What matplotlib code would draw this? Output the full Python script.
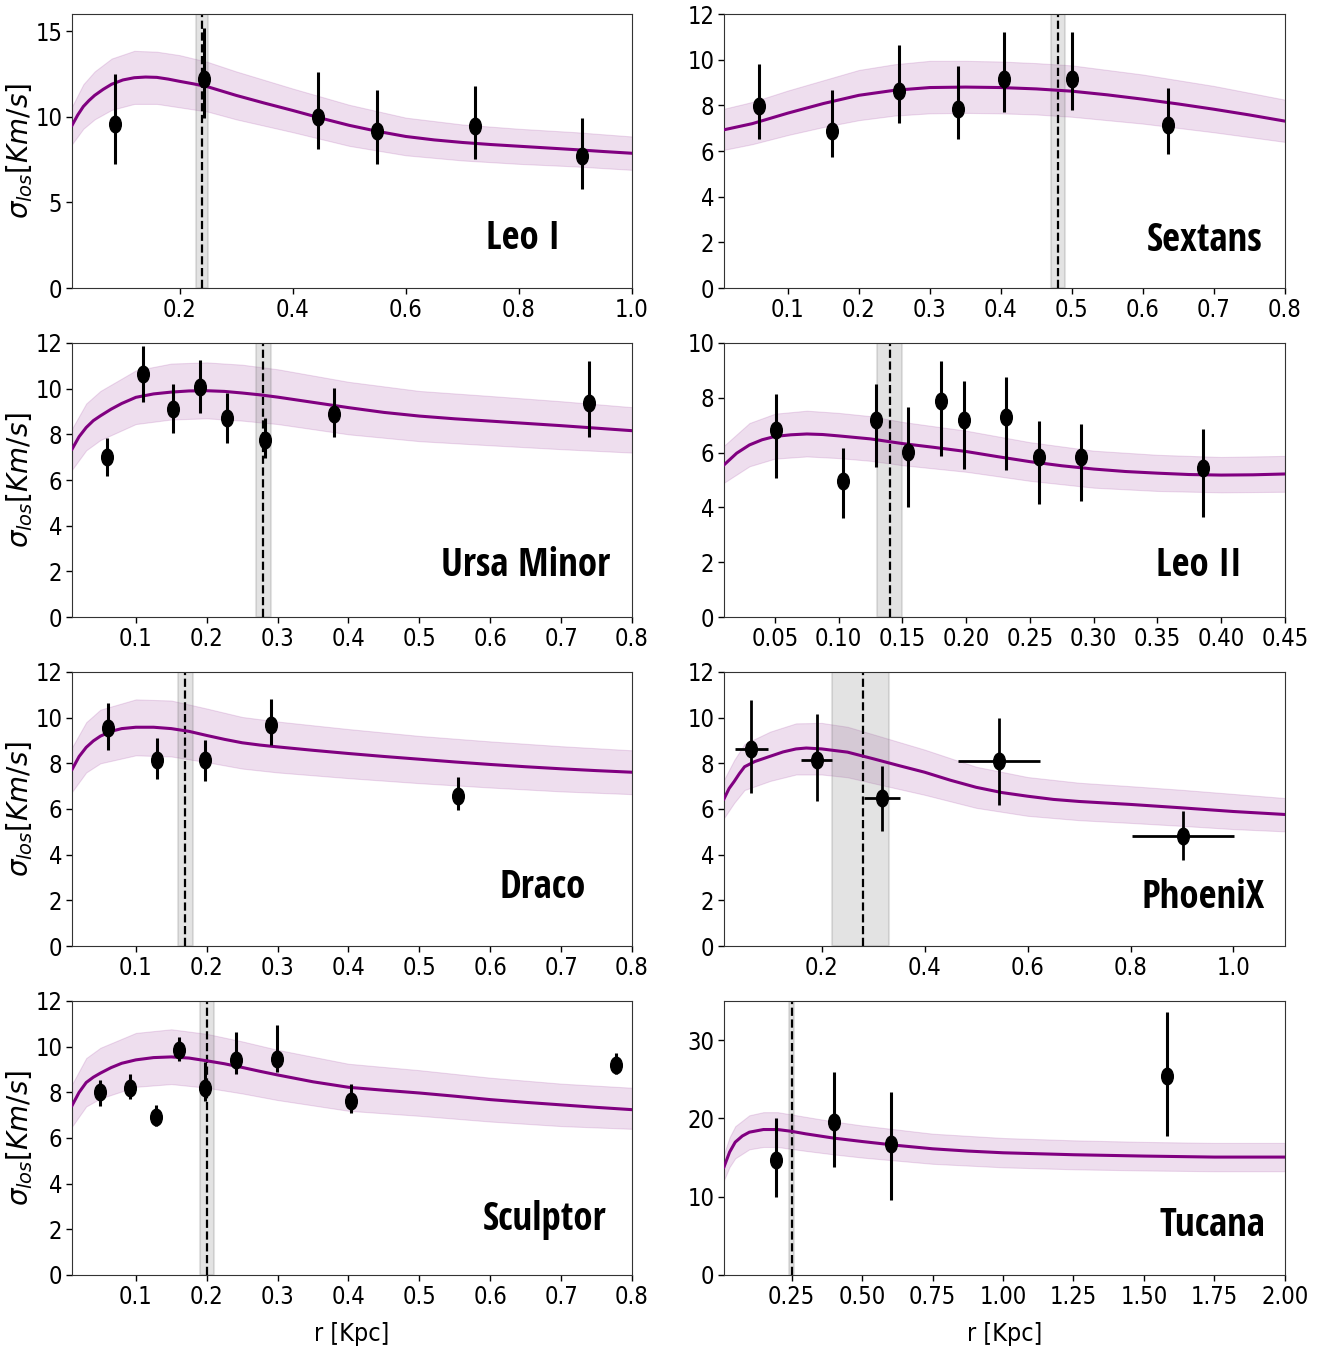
import numpy as np
import matplotlib
matplotlib.use("Agg")
import matplotlib.pyplot as plt
from matplotlib import font_manager
from matplotlib.font_manager import FontProperties
from matplotlib.path import Path
from matplotlib.transforms import Affine2D

# ---------------- data ----------------
names = ["Leo I", "Sextans", "Ursa Minor", "Leo II", "Draco", "PhoeniX", "Sculptor", "Tucana"]

# Leo I
leo1_r = [0.086, 0.243, 0.445, 0.550, 0.723, 0.911]
leo1_s = [9.6, 12.2, 10.0, 9.15, 9.45, 7.7]
leo1_lo = [7.25, 9.9, 8.1, 7.25, 7.55, 5.8]
leo1_hi = [12.5, 15.2, 12.6, 11.55, 11.8, 9.9]
leo1_mr = [0.01, 0.02, 0.03, 0.04, 0.05, 0.065, 0.08, 0.1, 0.12, 0.14, 0.16, 0.18, 0.2, 0.225, 0.25,
           0.275, 0.3, 0.35, 0.4, 0.45, 0.5, 0.55, 0.6, 0.65, 0.7, 0.75, 0.8, 0.85, 0.9, 0.95, 1.0]
leo1_m = [9.5, 10.1, 10.6, 10.95, 11.25, 11.6, 11.9, 12.15, 12.28, 12.32, 12.3, 12.2, 12.07, 11.92, 11.75,
          11.5, 11.25, 10.8, 10.37, 9.92, 9.5, 9.15, 8.85, 8.65, 8.5, 8.38, 8.28, 8.18, 8.08, 7.97, 7.87]
leo1_br = [0.01, 0.03, 0.05, 0.08, 0.12, 0.16, 0.2, 0.25, 0.3, 0.4, 0.5, 0.6, 0.7, 0.8, 0.9, 1.0]
leo1_blo = [8.4, 9.3, 9.85, 10.4, 10.75, 10.75, 10.55, 10.3, 9.85, 9.1, 8.3, 7.75, 7.45, 7.25, 7.1, 6.9]
leo1_bhi = [10.6, 11.9, 12.65, 13.4, 13.85, 13.8, 13.6, 13.2, 12.65, 11.65, 10.7, 9.95, 9.55, 9.3, 9.1, 8.85]

# Sextans
sext_r = [0.059, 0.162, 0.257, 0.340, 0.405, 0.500, 0.635]
sext_s = [7.96, 6.88, 8.63, 7.86, 9.17, 9.17, 7.12]
sext_lo = [6.54, 5.73, 7.23, 6.54, 7.72, 7.78, 5.85]
sext_hi = [9.83, 8.66, 10.65, 9.72, 11.2, 11.2, 8.78]
sext_mr = [0.01, 0.05, 0.1, 0.15, 0.2, 0.25, 0.3, 0.35, 0.4, 0.45, 0.5, 0.55, 0.6, 0.65, 0.7, 0.75, 0.8]
sext_m = [6.93, 7.2, 7.66, 8.08, 8.44, 8.66, 8.78, 8.8, 8.78, 8.72, 8.62, 8.46, 8.27, 8.06, 7.83, 7.58, 7.31]
sext_br = [0.01, 0.05, 0.1, 0.15, 0.2, 0.25, 0.3, 0.35, 0.4, 0.45, 0.5, 0.6, 0.7, 0.8]
sext_blo = [6.05, 6.3, 6.7, 7.05, 7.35, 7.55, 7.65, 7.67, 7.65, 7.6, 7.5, 7.2, 6.82, 6.4]
sext_bhi = [7.85, 8.15, 8.65, 9.1, 9.55, 9.8, 9.95, 9.95, 9.92, 9.85, 9.75, 9.35, 8.85, 8.25]

# Ursa Minor
umi_r = [0.060, 0.110, 0.153, 0.190, 0.229, 0.282, 0.380, 0.739]
umi_s = [7.02, 10.65, 9.12, 10.07, 8.71, 7.76, 8.88, 9.39]
umi_lo = [6.19, 9.42, 8.05, 8.93, 7.61, 6.95, 7.87, 7.87]
umi_hi = [7.83, 11.85, 10.21, 11.27, 9.81, 8.71, 10.02, 11.19]
umi_mr = [0.01, 0.02, 0.03, 0.04, 0.05, 0.065, 0.08, 0.1, 0.125, 0.15, 0.175, 0.2, 0.225, 0.25, 0.275,
          0.3, 0.35, 0.4, 0.45, 0.5, 0.55, 0.6, 0.65, 0.7, 0.75, 0.8]
umi_m = [7.35, 7.9, 8.3, 8.6, 8.81, 9.1, 9.35, 9.62, 9.77, 9.85, 9.9, 9.91, 9.88, 9.81, 9.73,
         9.63, 9.4, 9.17, 8.96, 8.8, 8.68, 8.58, 8.48, 8.38, 8.27, 8.16]
umi_br = [0.01, 0.03, 0.05, 0.1, 0.15, 0.2, 0.25, 0.3, 0.4, 0.5, 0.6, 0.7, 0.8]
umi_blo = [6.45, 7.3, 7.75, 8.45, 8.65, 8.7, 8.6, 8.45, 8.0, 7.7, 7.52, 7.35, 7.2]
umi_bhi = [8.25, 9.35, 9.9, 10.8, 11.1, 11.15, 11.05, 10.85, 10.3, 9.9, 9.68, 9.45, 9.19]

# Leo II
leo2_r = [0.051, 0.103, 0.129, 0.154, 0.180, 0.198, 0.231, 0.257, 0.290, 0.386]
leo2_s = [6.83, 4.97, 7.2, 6.04, 7.87, 7.2, 7.3, 5.83, 5.83, 5.43]
leo2_lo = [5.06, 3.6, 5.47, 4.0, 5.88, 5.42, 5.37, 4.12, 4.23, 3.64]
leo2_hi = [8.15, 6.18, 8.51, 7.68, 9.33, 8.6, 8.76, 7.17, 7.05, 6.86]
leo2_mr = [0.01, 0.02, 0.03, 0.04, 0.05, 0.0625, 0.075, 0.0875, 0.1, 0.125, 0.15, 0.175, 0.2, 0.225,
           0.25, 0.275, 0.3, 0.325, 0.35, 0.375, 0.4, 0.425, 0.45]
leo2_m = [5.55, 5.98, 6.28, 6.47, 6.59, 6.65, 6.68, 6.66, 6.61, 6.5, 6.33, 6.19, 6.04, 5.85,
          5.67, 5.52, 5.4, 5.31, 5.25, 5.2, 5.18, 5.19, 5.22]
leo2_br = [0.01, 0.03, 0.05, 0.075, 0.1, 0.125, 0.15, 0.2, 0.25, 0.3, 0.35, 0.4, 0.45]
leo2_blo = [4.9, 5.5, 5.78, 5.86, 5.8, 5.7, 5.54, 5.3, 4.97, 4.72, 4.6, 4.55, 4.57]
leo2_bhi = [6.25, 7.08, 7.42, 7.53, 7.45, 7.33, 7.12, 6.8, 6.38, 6.07, 5.92, 5.84, 5.88]

# Draco
dra_r = [0.061, 0.130, 0.198, 0.290, 0.554]
dra_s = [9.53, 8.13, 8.13, 9.69, 6.58]
dra_lo = [8.57, 7.33, 7.24, 8.82, 5.94]
dra_hi = [10.65, 9.09, 9.01, 10.83, 7.4]
dra_mr = [0.01, 0.02, 0.03, 0.04, 0.05, 0.065, 0.08, 0.1, 0.125, 0.15, 0.175, 0.2, 0.225, 0.25, 0.275,
          0.3, 0.35, 0.4, 0.45, 0.5, 0.55, 0.6, 0.65, 0.7, 0.75, 0.8]
dra_m = [7.73, 8.3, 8.7, 8.98, 9.19, 9.4, 9.52, 9.58, 9.58, 9.52, 9.4, 9.22, 9.05, 8.9, 8.8,
         8.72, 8.57, 8.43, 8.3, 8.18, 8.06, 7.95, 7.85, 7.76, 7.68, 7.61]
dra_br = [0.01, 0.03, 0.05, 0.1, 0.15, 0.2, 0.25, 0.3, 0.4, 0.5, 0.6, 0.7, 0.8]
dra_blo = [6.75, 7.6, 8.0, 8.35, 8.3, 8.05, 7.77, 7.6, 7.35, 7.13, 6.94, 6.77, 6.65]
dra_bhi = [8.7, 9.8, 10.35, 10.8, 10.75, 10.4, 10.03, 9.83, 9.5, 9.2, 8.96, 8.75, 8.57]

# PhoeniX (with radial bin widths)
phx_r = [0.063, 0.190, 0.318, 0.544, 0.902]
phx_s = [8.63, 8.13, 6.48, 8.09, 4.8]
phx_lo = [6.7, 6.33, 5.02, 6.19, 3.78]
phx_hi = [10.77, 10.14, 7.9, 10.0, 5.9]
phx_rerr = [0.032, 0.030, 0.035, 0.080, 0.100]
phx_mr = [0.01, 0.02, 0.03, 0.04, 0.05, 0.07, 0.1, 0.125, 0.15, 0.17, 0.2, 0.25, 0.3, 0.35, 0.4,
          0.45, 0.5, 0.55, 0.6, 0.65, 0.7, 0.8, 0.9, 1.0, 1.1]
phx_m = [6.44, 6.9, 7.21, 7.55, 7.85, 8.08, 8.31, 8.5, 8.63, 8.67, 8.63, 8.49, 8.2, 7.9, 7.61,
         7.26, 6.95, 6.72, 6.56, 6.42, 6.33, 6.2, 6.05, 5.89, 5.76]
phx_br = [0.01, 0.03, 0.05, 0.1, 0.15, 0.2, 0.25, 0.3, 0.4, 0.5, 0.6, 0.7, 0.8, 0.9, 1.0, 1.1]
phx_blo = [5.6, 6.27, 6.83, 7.23, 7.51, 7.51, 7.39, 7.13, 6.62, 6.05, 5.7, 5.51, 5.39, 5.26, 5.12, 5.02]
phx_bhi = [7.28, 8.15, 8.85, 9.39, 9.75, 9.77, 9.6, 9.27, 8.6, 7.85, 7.4, 7.15, 7.0, 6.84, 6.66, 6.48]

# Sculptor
scl_r = [0.049, 0.092, 0.128, 0.161, 0.198, 0.241, 0.299, 0.404, 0.778]
scl_s = [8.0, 8.17, 6.91, 9.85, 8.17, 9.41, 9.45, 7.6, 9.2]
scl_lo = [7.39, 7.71, 6.51, 9.35, 7.64, 8.8, 8.91, 7.1, 8.8]
scl_hi = [8.54, 8.8, 7.45, 10.4, 9.34, 10.65, 10.95, 8.36, 9.72]
scl_mr = [0.01, 0.02, 0.03, 0.04, 0.05, 0.065, 0.08, 0.1, 0.125, 0.15, 0.175, 0.2, 0.225, 0.25, 0.275,
          0.3, 0.35, 0.4, 0.45, 0.5, 0.55, 0.6, 0.65, 0.7, 0.75, 0.8]
scl_m = [7.42, 8.0, 8.43, 8.66, 8.84, 9.08, 9.27, 9.42, 9.52, 9.55, 9.5, 9.38, 9.25, 9.09, 8.92,
         8.76, 8.46, 8.22, 8.09, 7.97, 7.83, 7.68, 7.56, 7.45, 7.34, 7.24]
scl_br = [0.01, 0.03, 0.05, 0.1, 0.15, 0.2, 0.25, 0.3, 0.4, 0.5, 0.6, 0.7, 0.8]
scl_blo = [6.5, 7.38, 7.73, 8.24, 8.36, 8.2, 7.95, 7.66, 7.19, 6.97, 6.72, 6.52, 6.4]
scl_bhi = [8.35, 9.5, 9.95, 10.6, 10.76, 10.56, 10.23, 9.86, 9.25, 8.97, 8.64, 8.38, 8.2]

# Tucana
tuc_r = [0.193, 0.402, 0.602, 1.581]
tuc_s = [14.72, 19.6, 16.67, 25.37]
tuc_lo = [9.97, 13.79, 9.63, 17.73]
tuc_hi = [20.0, 25.96, 23.4, 33.6]
tuc_mr = [0.01, 0.03, 0.05, 0.075, 0.1, 0.15, 0.2, 0.25, 0.3, 0.4, 0.5, 0.625, 0.75, 0.875, 1.0,
          1.25, 1.5, 1.75, 2.0]
tuc_m = [13.79, 15.7, 16.97, 17.75, 18.24, 18.58, 18.58, 18.35, 18.03, 17.48, 17.05, 16.55, 16.12,
         15.83, 15.61, 15.36, 15.19, 15.06, 15.06]
tuc_br = [0.01, 0.03, 0.05, 0.1, 0.15, 0.2, 0.3, 0.4, 0.5, 0.75, 1.0, 1.25, 1.5, 1.75, 2.0]
tuc_blo = [12.1, 13.8, 14.9, 16.05, 16.35, 16.35, 15.85, 15.4, 15.0, 14.2, 13.75, 13.5, 13.35, 13.25, 13.25]
tuc_bhi = [15.45, 17.6, 19.0, 20.4, 20.8, 20.8, 20.2, 19.6, 19.1, 18.05, 17.5, 17.2, 17.0, 16.87, 16.87]

# core radius (dashed) and its uncertainty (grey band)
rc_mid = [0.24, 0.48, 0.28, 0.14, 0.17, 0.28, 0.20, 0.25]
rc_lo = [0.23, 0.47, 0.27, 0.13, 0.16, 0.22, 0.19, 0.24]
rc_hi = [0.25, 0.49, 0.29, 0.15, 0.18, 0.33, 0.21, 0.26]

xmax = [1.0, 0.8, 0.8, 0.45, 0.8, 1.1, 0.8, 2.0]
ymax = [16, 12, 12, 10, 12, 12, 12, 35]
xticks = [
    [0.2, 0.4, 0.6, 0.8, 1.0],
    [0.1, 0.2, 0.3, 0.4, 0.5, 0.6, 0.7, 0.8],
    [0.1, 0.2, 0.3, 0.4, 0.5, 0.6, 0.7, 0.8],
    [0.05, 0.10, 0.15, 0.20, 0.25, 0.30, 0.35, 0.40, 0.45],
    [0.1, 0.2, 0.3, 0.4, 0.5, 0.6, 0.7, 0.8],
    [0.2, 0.4, 0.6, 0.8, 1.0],
    [0.1, 0.2, 0.3, 0.4, 0.5, 0.6, 0.7, 0.8],
    [0.25, 0.50, 0.75, 1.00, 1.25, 1.50, 1.75, 2.00],
]
xfmt = ["%.1f", "%.1f", "%.1f", "%.2f", "%.1f", "%.1f", "%.1f", "%.2f"]
yticks = [
    [0, 5, 10, 15],
    [0, 2, 4, 6, 8, 10, 12],
    [0, 2, 4, 6, 8, 10, 12],
    [0, 2, 4, 6, 8, 10],
    [0, 2, 4, 6, 8, 10, 12],
    [0, 2, 4, 6, 8, 10, 12],
    [0, 2, 4, 6, 8, 10, 12],
    [0, 10, 20, 30],
]
label_pos = [(0.805, 0.18), (0.857, 0.17), (0.81, 0.186), (0.847, 0.186),
             (0.84, 0.21), (0.854, 0.176), (0.843, 0.20), (0.87, 0.18)]

obs = [
    (leo1_r, leo1_s, leo1_lo, leo1_hi, None),
    (sext_r, sext_s, sext_lo, sext_hi, None),
    (umi_r, umi_s, umi_lo, umi_hi, None),
    (leo2_r, leo2_s, leo2_lo, leo2_hi, None),
    (dra_r, dra_s, dra_lo, dra_hi, None),
    (phx_r, phx_s, phx_lo, phx_hi, phx_rerr),
    (scl_r, scl_s, scl_lo, scl_hi, None),
    (tuc_r, tuc_s, tuc_lo, tuc_hi, None),
]
model = [
    (leo1_mr, leo1_m, leo1_br, leo1_blo, leo1_bhi),
    (sext_mr, sext_m, sext_br, sext_blo, sext_bhi),
    (umi_mr, umi_m, umi_br, umi_blo, umi_bhi),
    (leo2_mr, leo2_m, leo2_br, leo2_blo, leo2_bhi),
    (dra_mr, dra_m, dra_br, dra_blo, dra_bhi),
    (phx_mr, phx_m, phx_br, phx_blo, phx_bhi),
    (scl_mr, scl_m, scl_br, scl_blo, scl_bhi),
    (tuc_mr, tuc_m, tuc_br, tuc_blo, tuc_bhi),
]

# ---------------- fonts: look for narrow faces ----------------
WEIGHTS = {"ultralight": 200, "light": 300, "normal": 400, "regular": 400, "book": 400,
           "medium": 500, "roman": 400, "semibold": 600, "demibold": 600, "demi": 600,
           "bold": 700, "heavy": 800, "extra bold": 800, "black": 900}


def wnum(w):
    if isinstance(w, (int, float)):
        return w
    return WEIGHTS.get(str(w).lower(), 400)


def named_narrow(f):
    return "Condensed" in f.name or "Narrow" in f.name


narrow = []
for f in font_manager.fontManager.ttflist:
    st = str(f.stretch)
    if f.style != "normal":
        continue
    if named_narrow(f) or st in ("condensed", "semi-condensed", "extra-condensed"):
        narrow.append(f)

reg = sorted([f for f in narrow if wnum(f.weight) < 600], key=lambda f: abs(wnum(f.weight) - 400))
bld = sorted([f for f in narrow if wnum(f.weight) >= 600],
             key=lambda f: (0 if f.name == "Open Sans Condensed" else 1,
                            0 if named_narrow(f) else 1, abs(wnum(f.weight) - 700)))

if reg:
    fp_reg = dict(family=[reg[0].name, "DejaVu Sans"], stretch=reg[0].stretch, weight=wnum(reg[0].weight))
    tick_fs = 17
else:
    fp_reg = dict(family=["DejaVu Sans"], weight="normal")
    tick_fs = 14
if bld:
    fp_bold = dict(family=[bld[0].name, "DejaVu Sans"], stretch=bld[0].stretch, weight=wnum(bld[0].weight))
    name_fs = 28 if named_narrow(bld[0]) else 25
else:
    fp_bold = dict(family=["DejaVu Sans"], weight="bold")
    name_fs = 22

ell = Path.unit_circle().transformed(Affine2D().scale(0.7, 1.0))

fig = plt.figure(figsize=(13.34, 13.60), dpi=100)
bottoms = [0.7882, 0.5463, 0.3044, 0.0625]
lefts = [0.054, 0.5427]
widths = [0.4198, 0.4205]
height = 0.2015

for i, name in enumerate(names):
    row, col = divmod(i, 2)
    ax = fig.add_axes([lefts[col], bottoms[row], widths[col], height])
    mr, m, br, blo, bhi = model[i]
    ax.fill_between(br, blo, bhi, color="purple", alpha=0.13, lw=0.8)
    ax.plot(mr, m, color="purple", lw=2.2, zorder=3)
    ax.axvspan(rc_lo[i], rc_hi[i], color="grey", alpha=0.22, lw=1.5, zorder=1)
    ax.axvline(rc_mid[i], color="black", ls="--", lw=1.6, zorder=2)

    r, s, lo, hi, rerr = obs[i]
    s = np.array(s)
    yerr = [s - np.array(lo), np.array(hi) - s]
    ax.errorbar(r, s, yerr=yerr, xerr=rerr, fmt="none", ecolor="black",
                elinewidth=2.2 if rerr is None else 2.0, capsize=0, zorder=4)
    ax.plot(r, s, ls="none", marker=ell, ms=12, color="black", zorder=5)

    ax.set_xlim(0.01, xmax[i])
    ax.set_ylim(0, ymax[i])
    ax.set_xticks(xticks[i])
    ax.set_xticklabels([xfmt[i] % t for t in xticks[i]])
    ax.set_yticks(yticks[i])
    ax.tick_params(length=4, width=1, pad=3)
    for lab in ax.get_xticklabels() + ax.get_yticklabels():
        lab.set_fontproperties(FontProperties(size=tick_fs, **fp_reg))
    for sp in ax.spines.values():
        sp.set_color("#333333")

    ax.text(label_pos[i][0], label_pos[i][1], name, transform=ax.transAxes,
            ha="center", va="center", fontproperties=FontProperties(size=name_fs, **fp_bold), zorder=6)

    if col == 0:
        ax.set_ylabel(r"$\sigma_{los}[Km/s]$", fontsize=20)
        ax.yaxis.set_label_coords(-0.066, 0.5)
    if row == 3:
        ax.set_xlabel("r [Kpc]", fontproperties=FontProperties(size=18, **fp_reg))
        ax.xaxis.set_label_coords(0.5, -0.17)

fig.savefig("out.png", dpi=100)
